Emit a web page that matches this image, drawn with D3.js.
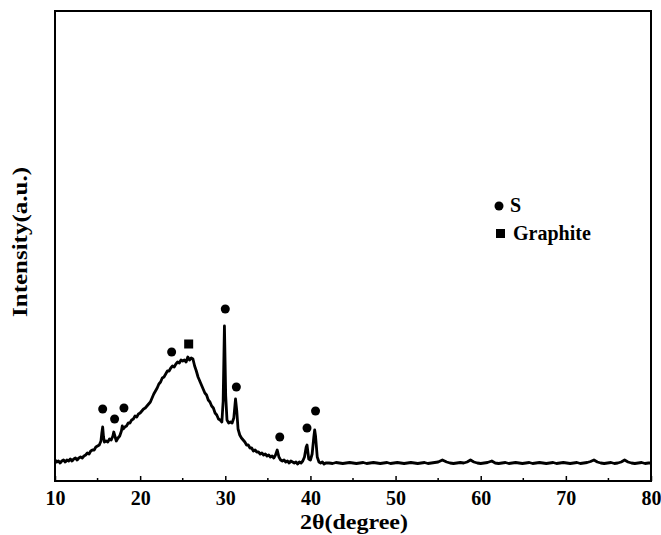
<!DOCTYPE html>
<html>
<head>
<meta charset="utf-8">
<script src="https://cdn.jsdelivr.net/npm/d3@7"></script>
<style>
  body { margin: 0; background: #fff; }
  text { font-family: "Times New Roman", "Liberation Serif", serif; font-weight: bold; }
</style>
</head>
<body>
<div id="chart"></div>
<script>
// measured pattern, 2theta (degree) and intensity (a.u.)
const twoTheta = [
  10.0, 10.2, 10.4, 10.6, 10.8, 11.0, 11.2, 11.4, 11.6, 11.8, 12.0, 12.2, 12.4, 12.6, 12.8, 13.0, 13.2, 13.4, 13.6, 13.8,
  14.0, 14.2, 14.4, 14.6, 14.8, 15.0, 15.2, 15.4, 15.5, 15.6, 15.7, 15.8, 16.0, 16.2, 16.4, 16.6, 16.8, 16.9, 17.0, 17.2,
  17.4, 17.6, 17.8, 17.9, 18.0, 18.2, 18.4, 18.6, 18.8, 19.0, 19.2, 19.4, 19.6, 19.8, 20.0, 20.2, 20.4, 20.6, 20.8, 21.0,
  21.2, 21.4, 21.6, 21.8, 22.0, 22.2, 22.4, 22.6, 22.8, 23.0, 23.2, 23.4, 23.6, 23.8, 24.0, 24.2, 24.4, 24.6, 24.8, 25.0,
  25.2, 25.4, 25.6, 25.8, 26.0, 26.2, 26.4, 26.6, 26.8, 27.0, 27.2, 27.4, 27.6, 27.8, 28.0, 28.2, 28.4, 28.6, 28.8, 29.0,
  29.2, 29.4, 29.6, 29.75, 29.9, 30.05, 30.2, 30.4, 30.6, 30.8, 31.0, 31.2, 31.35, 31.5, 31.7, 31.9, 32.1, 32.3, 32.5, 32.7,
  32.9, 33.1, 33.3, 33.5, 33.7, 33.9, 34.1, 34.3, 34.5, 34.7, 34.9, 35.1, 35.3, 35.5, 35.7, 35.9, 36.1, 36.3, 36.5, 36.7,
  36.9, 37.1, 37.3, 37.5, 37.7, 37.9, 38.1, 38.3, 38.5, 38.7, 38.9, 39.1, 39.3, 39.5, 39.6, 39.8, 40.0, 40.2, 40.4, 40.5,
  40.6, 40.8, 41.0, 41.2, 41.4, 41.6, 41.8,
  42.2, 42.6, 43.0, 43.4, 43.8, 44.2, 44.6, 45.0, 45.4, 45.8, 46.2, 46.6, 47.0, 47.4, 47.8, 48.2, 48.6, 49.0, 49.4, 49.8,
  50.2, 50.6, 51.0, 51.4, 51.8, 52.2, 52.6, 53.0, 53.4, 53.8, 54.2, 54.6, 55.0, 55.5, 56.0, 56.4, 56.8, 57.2, 57.6, 58.0,
  58.4, 58.8, 59.2, 59.6, 60.0, 60.4, 60.8, 61.3, 61.7, 62.1, 62.5, 62.9, 63.3, 63.7, 64.1, 64.5, 64.9, 65.3, 65.7, 66.1,
  66.5, 66.9, 67.3, 67.7, 68.1, 68.5, 68.9, 69.3, 69.7, 70.1, 70.5, 70.9, 71.3, 71.7, 72.1, 72.5, 72.9, 73.3, 73.7, 74.1,
  74.5, 74.9, 75.3, 75.7, 76.1, 76.5, 76.9, 77.3, 77.7, 78.1, 78.5, 78.9, 79.3, 79.7, 80.0
];
const intensity = [
  21, 19, 20, 18, 20, 21, 19, 21, 20, 22, 20, 22, 23, 21, 23, 24, 23, 25, 26, 28,
  27, 30, 31, 31, 34, 35, 36, 40, 48, 54, 44, 39, 40, 39, 42, 41, 45, 49, 46, 40,
  43, 45, 50, 55, 52, 54, 55, 58, 58, 61, 62, 65, 64, 67, 68, 70, 72, 73, 75, 77,
  79, 83, 87, 90, 93, 97, 99, 103, 104, 107, 110, 110, 113, 115, 114, 117, 119, 118, 121, 120,
  121, 119, 124, 121, 123, 122, 115, 110, 104, 100, 96, 92, 88, 86, 81, 79, 75, 73, 68, 66,
  62, 61, 59, 80, 155, 85, 61, 58, 59, 58, 63, 82, 70, 52, 46, 43, 41, 39, 36, 36,
  33, 33, 30, 31, 29, 29, 27, 28, 26, 27, 25, 26, 24, 25, 23, 26, 31, 24, 21, 20,
  21, 19, 20, 18, 20, 19, 18, 19, 17, 19, 18, 20, 24, 34, 36, 22, 21, 27, 44, 51,
  45, 24, 19, 18, 19, 17, 18,
  18, 17.5, 18.5, 18, 17.5, 18, 18.5, 18, 17.5, 18, 18.5, 17.5, 18, 18.5, 18, 17.5, 18, 18.5, 17.5, 18,
  18.5, 18, 17.5, 18, 18.5, 18, 17.5, 18, 18.5, 17.5, 18, 18.5, 19, 21, 19, 18, 17.5, 18, 18.5, 18,
  19, 21, 19, 18, 17.5, 18, 18.5, 20, 18, 17.5, 18, 18.5, 17.5, 18, 18.5, 18, 17.5, 18, 18.5, 17.5,
  18, 18.5, 18, 17.5, 18, 18.5, 17.5, 18, 18.5, 18, 17.5, 18, 18.5, 17.5, 18, 18.5, 19.5, 21, 19, 18,
  17.5, 18, 18.5, 17.5, 18, 19, 21, 19, 18, 17.5, 18, 18.5, 17.5, 18, 18
];

// phase markers above the peaks
const sPeaks = [15.6, 17.0, 18.1, 23.7, 30.0, 31.3, 36.4, 39.6, 40.6];
const sLevels = [72, 62, 73, 129, 172, 94, 44, 53, 70];
const graphitePeaks = [25.7];
const graphiteLevels = [137];

const xTicks = [10, 20, 30, 40, 50, 60, 70, 80];
const xMinorTicks = [15, 25, 35, 45, 55, 65, 75];
const legendNames = ["S", "Graphite"];

const width = 661, height = 535;
const plotLeft = 55, plotRight = 651, plotTop = 11, plotBottom = 481;

const svg = d3.select("#chart")
  .append("svg")
  .attr("width", width)
  .attr("height", height);

const x = d3.scaleLinear().domain([10, 80]).range([plotLeft, plotRight]);
const y = d3.scaleLinear().domain([0, 470]).range([plotBottom, plotTop]);

// ticks point inward, labels below
const xAxis = d3.axisBottom(x)
  .tickValues(xTicks)
  .tickSizeInner(-5)
  .tickSizeOuter(0)
  .tickPadding(10)
  .tickFormat(d3.format("d"));

const gx = svg.append("g")
  .attr("transform", "translate(0," + plotBottom + ")")
  .call(xAxis);
gx.select(".domain").remove();
gx.selectAll(".tick line").attr("stroke", "#000").attr("stroke-width", 1.5);
gx.selectAll(".tick text")
  .attr("fill", "#000")
  .style("font-size", "20px");

svg.append("g")
  .selectAll("line")
  .data(xMinorTicks)
  .join("line")
  .attr("x1", d => x(d))
  .attr("x2", d => x(d))
  .attr("y1", plotBottom)
  .attr("y2", plotBottom - 3)
  .attr("stroke", "#000")
  .attr("stroke-width", 1.5);

// the curve
const points = twoTheta.map((t, i) => [t, intensity[i]]);
svg.append("path")
  .datum(points)
  .attr("fill", "none")
  .attr("stroke", "#000")
  .attr("stroke-width", 2.8)
  .attr("stroke-linejoin", "round")
  .attr("d", d3.line().x(d => x(d[0])).y(d => y(d[1])));

// frame
svg.append("rect")
  .attr("x", plotLeft)
  .attr("y", plotTop)
  .attr("width", plotRight - plotLeft)
  .attr("height", plotBottom - plotTop)
  .attr("fill", "none")
  .attr("stroke", "#000")
  .attr("stroke-width", 2);

svg.append("g")
  .selectAll("circle")
  .data(sPeaks)
  .join("circle")
  .attr("cx", d => x(d))
  .attr("cy", (d, i) => y(sLevels[i]))
  .attr("r", 4.5)
  .attr("fill", "#000");

svg.append("g")
  .selectAll("rect")
  .data(graphitePeaks)
  .join("rect")
  .attr("x", d => x(d) - 4.5)
  .attr("y", (d, i) => y(graphiteLevels[i]) - 4.5)
  .attr("width", 9)
  .attr("height", 9)
  .attr("fill", "#000");

// legend
const legend = svg.append("g");
legend.append("circle").attr("cx", 499).attr("cy", 206).attr("r", 4.5).attr("fill", "#000");
legend.append("rect").attr("x", 496).attr("y", 229).attr("width", 9).attr("height", 9).attr("fill", "#000");
legend.selectAll("text")
  .data(legendNames)
  .join("text")
  .attr("x", (d, i) => i === 0 ? 510 : 513)
  .attr("y", (d, i) => i === 0 ? 212 : 240)
  .style("font-size", "20px")
  .text(d => d);

// axis titles (the original is a bit stretched sideways)
svg.append("text")
  .attr("x", 354)
  .attr("y", 529)
  .attr("text-anchor", "middle")
  .attr("textLength", 108)
  .attr("lengthAdjust", "spacingAndGlyphs")
  .style("font-size", "21px")
  .text("2θ(degree)");

svg.append("text")
  .attr("transform", "translate(27,242) rotate(-90)")
  .attr("text-anchor", "middle")
  .attr("textLength", 150)
  .attr("lengthAdjust", "spacingAndGlyphs")
  .style("font-size", "21px")
  .text("Intensity(a.u.)");
</script>
</body>
</html>
